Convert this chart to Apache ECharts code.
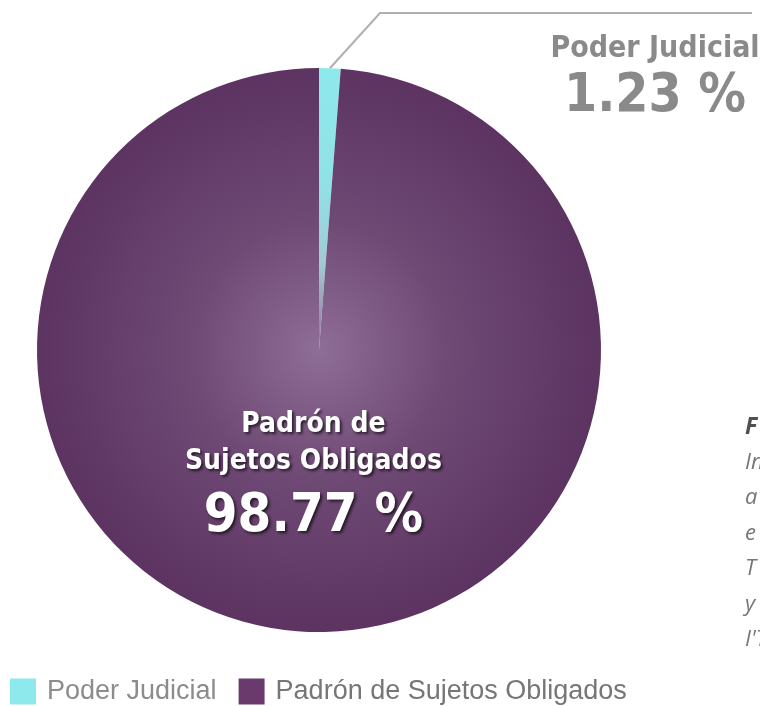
<!DOCTYPE html>
<html>
<head>
<meta charset="utf-8">
<script src="https://cdn.jsdelivr.net/npm/echarts@6/dist/echarts.min.js"></script>
<style>
  html, body { margin: 0; padding: 0; background: #ffffff; }
  #chart { width: 760px; height: 706px; }
</style>
</head>
<body>
<div id="chart"></div>
<script>
// data
var categories = ['Poder Judicial', 'Padrón de Sujetos Obligados'];
var values = [1.23, 98.77];
var noteLines = ['F', 'In', 'a', 'e', 'T', 'y', "I'T"];

(function() {
  var chart = echarts.init(document.getElementById('chart'), null, { renderer: 'canvas' });

  var cx = 319, cy = 350, r = 282;
  var condensed = '"DejaVu Sans Condensed", "Liberation Sans Narrow", sans-serif';

  function radial(stops) {
    return { type: 'radial', x: cx, y: cy, r: r, global: true, colorStops: stops };
  }

  var fills = [
    radial([
      { offset: 0, color: '#8e7199' },
      { offset: 0.3, color: '#a2c9d4' },
      { offset: 0.6, color: '#90e2e6' },
      { offset: 1, color: '#8ee9ec' }
    ]),
    radial([
      { offset: 0, color: '#8e6d96' },
      { offset: 0.45, color: '#6f4a75' },
      { offset: 1, color: '#5c3361' }
    ])
  ];
  var legendColors = ['#8ee9ec', '#6a3a6c'];

  var pieData = categories.map(function(name, i) {
    return {
      name: name,
      value: values[i],
      itemStyle: { color: fills[i] }
    };
  });

  // judicial slice: label outside top-right with a bent leader line
  pieData[0].label = {
    show: true,
    position: 'outside',
    formatter: '{n|{b}}\n{v|{c} %}',
    align: 'center',
    rich: {
      n: { fontFamily: condensed, fontWeight: 'bold', fontSize: 30, lineHeight: 38, color: '#8a8a8a' },
      v: { fontFamily: condensed, fontWeight: 'bold', fontSize: 53, lineHeight: 58, color: '#8a8a8a' }
    }
  };
  pieData[0].labelLine = { show: true, lineStyle: { color: '#b0b0b0', width: 2 } };

  var shadow = {
    textShadowColor: 'rgba(0,0,0,0.65)', textShadowBlur: 3, textShadowOffsetX: 2, textShadowOffsetY: 2
  };

  // big slice: label inside
  pieData[1].label = {
    show: true,
    position: 'inside',
    formatter: '{n|Padrón de}\n{n|Sujetos Obligados}\n{v|{c} %}',
    rich: {
      n: Object.assign({
        fontFamily: condensed, fontWeight: 'bold', fontSize: 28, lineHeight: 37, color: '#ffffff'
      }, shadow),
      v: Object.assign({
        fontFamily: condensed, fontWeight: 'bold', fontSize: 54, lineHeight: 74, color: '#ffffff'
      }, shadow)
    }
  };
  pieData[1].labelLine = { show: false };

  var notes = noteLines.map(function(t, i) {
    return {
      type: 'text',
      left: 745,
      top: 416 + i * 35.5,
      style: {
        text: t,
        font: (i === 0 ? 'italic bold 23px ' : 'italic 22px ') + '"Open Sans", sans-serif',
        fill: i === 0 ? '#505050' : '#777777'
      }
    };
  });

  chart.setOption({
    animation: false,
    backgroundColor: '#ffffff',
    legend: {
      left: 5,
      top: 673,
      itemWidth: 26,
      itemHeight: 26,
      itemGap: 22,
      icon: 'rect',
      data: categories.map(function(name, i) {
        return {
          name: name,
          itemStyle: { color: legendColors[i] },
          textStyle: { color: i === 0 ? '#8c8c8c' : '#767676' }
        };
      }),
      textStyle: { fontFamily: '"Liberation Sans", Arial, sans-serif', fontSize: 27, padding: [2, 0, 0, 6] }
    },
    graphic: notes,
    series: [{
      type: 'pie',
      center: [cx, cy],
      radius: [0, r],
      startAngle: 90,
      clockwise: true,
      silent: true,
      data: pieData,
      labelLayout: function(params) {
        if (params.dataIndex === 0) {
          var p0 = params.labelLinePoints ? params.labelLinePoints[0] : [cx, cy - r];
          return {
            x: 655,
            y: 30,
            align: 'center',
            verticalAlign: 'top',
            labelLinePoints: [p0, [380, 13], [752, 13]]
          };
        }
        return { dy: -14 };
      }
    }]
  });

  window.addEventListener('resize', function() { chart.resize(); });
})();
</script>
</body>
</html>
